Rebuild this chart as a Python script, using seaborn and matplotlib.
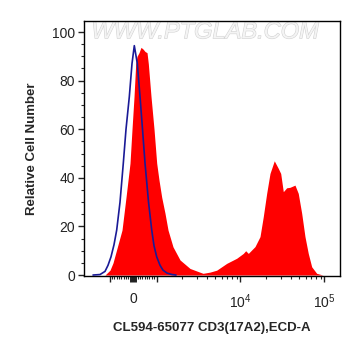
import numpy as np
import matplotlib
matplotlib.use("Agg")
import matplotlib.pyplot as plt
import matplotlib.patheffects as pe
import seaborn as sns

# CD3 stained sample (red filled histogram)
cd3_x = [-1131, -979, -851, -681, -468, -298, -128, -43, 43, 115, 170, 255, 340, 426,
         511, 596, 651, 766, 894, 1005, 1071, 1153, 1262, 1371, 1571, 1905, 2505, 3578,
         4335, 5209, 6852, 9012, 10800, 11530, 12390, 14880, 17070, 18670, 20500, 22450,
         25250, 28180, 30120, 32340, 35480, 38830, 44550, 48750, 53550, 58610, 64130,
         70440, 80720, 95950]
cd3_y = [0, 2, 5, 11, 18.5, 32, 46, 60, 73.4, 87, 90, 91.5, 93.7, 93,
         92, 91.5, 87, 73.4, 60, 46, 39, 32, 25.4, 18.5, 11.6, 6.2, 2.7, 0.7,
         1.2, 2, 4.8, 6.9, 8.9, 10, 8.9, 11.7, 15.8, 24, 33.6, 41.8,
         47, 43.9, 41.8, 34.3, 35.9, 36.1, 37, 33.6, 25.4, 15.8, 8.9,
         3.4, 0.7, 0]

# isotype control (blue line)
iso_x = [-1571, -1297, -1131, -1042, -936, -808, -694, -553, -413, -298, -157, -43, 55,
         183, 298, 404, 511, 660, 796, 894, 1005, 1101, 1195, 1334, 1529, 1706]
iso_y = [0, 0.2, 1.5, 4, 7.5, 12.5, 18.5, 30, 46, 60, 73.4, 87, 94.4,
         87, 73.4, 60, 46, 30, 18.5, 12, 7.5, 4, 2, 0.8, 0.2, 0]

x_major = [-1000, 0, 1000, 10000, 100000]
x_major_labels = ["", "0", "", "$10^4$", "$10^5$"]
x_minor = ([v for v in range(-900, 1000, 100) if v != 0]
           + list(range(2000, 10000, 1000)) + list(range(20000, 100000, 10000)))

sns.set_style("ticks")
plt.rcParams["font.family"] = ["Liberation Sans", "DejaVu Sans"]
plt.rcParams["mathtext.default"] = "regular"

fig = plt.figure(figsize=(3.61, 3.56), dpi=100)
ax = fig.add_axes([0.2327, 0.2247, 0.709, 0.716])

ax.fill_between(cd3_x, cd3_y, 0, color="#ff0000", linewidth=0, zorder=2)
sns.lineplot(x=iso_x, y=iso_y, ax=ax, color="#1a1a96", linewidth=1.2, sort=False,
             zorder=3)

ax.set_xscale("symlog", linthresh=1000, linscale=0.252)
ax.set_xlim(-2012, 152900)
ax.set_ylim(-0.4, 104.5)

ax.set_xticks(x_major)
ax.set_xticklabels(x_major_labels)
ax.set_xticks(x_minor, minor=True)
ax.set_yticks(range(0, 101, 20))
ax.set_yticks(range(0, 105, 5), minor=True)

ax.tick_params(axis="x", which="major", length=4.5, width=1, pad=7, labelsize=10,
               colors="#222222")
ax.tick_params(axis="x", which="minor", length=2.5, width=0.8)
ax.tick_params(axis="y", which="major", length=4.5, width=1, pad=2, labelsize=10,
               colors="#222222")
ax.tick_params(axis="y", which="minor", length=2.5, width=0.8)
ax.xaxis.get_major_ticks()[1].tick1line.set_markeredgewidth(5)

for s in ax.spines.values():
    s.set_visible(True)
    s.set_color("black")
    s.set_linewidth(1)

ax.set_ylabel("Relative Cell Number", fontsize=9.5, fontweight="bold", labelpad=10)
ax.set_xlabel("CL594-65077 CD3(17A2),ECD-A", fontsize=9.5, fontweight="bold",
              labelpad=8)

ax.text(0.473, 0.958, "WWW.PTGLAB.COM", transform=ax.transAxes, ha="center",
        va="center", fontsize=17, fontstyle="italic", color="#f4f4f4", zorder=1,
        path_effects=[pe.withStroke(linewidth=0.8, foreground="#d2d2d2")])

fig.savefig("out.png", dpi=100)
